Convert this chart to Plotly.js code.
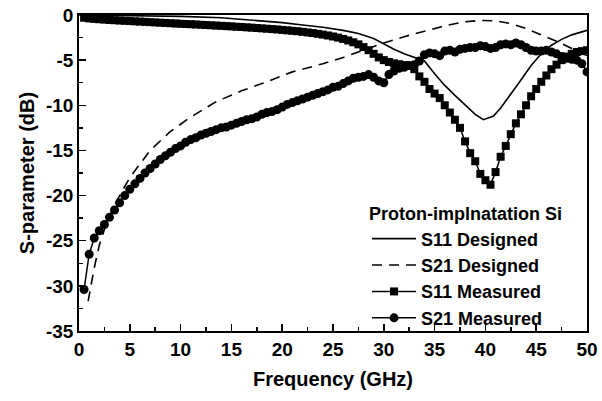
<!DOCTYPE html>
<html>
<head>
<meta charset="utf-8">
<script src="https://cdn.plot.ly/plotly-3.0.1.min.js"></script>
<style>html,body{margin:0;padding:0;background:#fff;}#chart{width:602px;height:401px;}</style>
</head>
<body>
<div id="chart"></div>
<script>
// Designed S11 (solid line)
var s11DesFreq = [0, 5, 10, 14, 17, 20, 22, 24, 26, 27.5, 29, 30, 31, 32, 33, 34, 35, 36, 37, 38, 39, 39.8, 40.8, 41.5, 42.5, 43.5, 44.5, 45.5, 46.5, 47.5, 48.5, 50];
var s11DesVal  = [0, -0.05, -0.15, -0.3, -0.55, -0.85, -1.1, -1.35, -1.7, -2.05, -2.6, -3.2, -3.8, -4.3, -4.7, -5.1, -6.5, -7.8, -8.9, -10.0, -11.0, -11.6, -11.2, -10.3, -8.8, -7.2, -5.6, -4.3, -3.35, -2.7, -2.2, -1.7];

// Designed S21 (dashed line)
var s21DesFreq = [0.9, 1.5, 2, 2.7, 3.5, 5, 7, 9, 11, 13.5, 16, 18, 21, 24, 26, 28, 30, 32, 34, 36, 38, 39.5, 41, 42.5, 44, 45.5, 47, 48.5, 50];
var s21DesVal  = [-31.7, -28, -25.5, -23.1, -21, -18, -15, -12.9, -11.3, -9.6, -8.4, -7.6, -6.3, -5.4, -4.7, -3.9, -3.1, -2.4, -1.8, -1.2, -0.75, -0.6, -0.65, -0.95, -1.5, -2.2, -2.9, -3.7, -4.5];

// Measured frequencies (GHz)
var measFreq = [0.5, 1, 1.5, 2, 2.5, 3, 3.5, 4, 4.5, 5, 5.5, 6, 6.5, 7, 7.5, 8, 8.5, 9, 9.5, 10,
  10.5, 11, 11.5, 12, 12.5, 13, 13.5, 14, 14.5, 15, 15.5, 16, 16.5, 17, 17.5, 18, 18.5, 19, 19.5, 20,
  20.5, 21, 21.5, 22, 22.5, 23, 23.5, 24, 24.5, 25, 25.5, 26, 26.5, 27, 27.5, 28, 28.5, 29, 29.5, 30,
  30.5, 31, 31.5, 32, 32.5, 33, 33.5, 34, 34.5, 35, 35.5, 36, 36.5, 37, 37.5, 38, 38.5, 39, 39.5, 40,
  40.5, 41, 41.5, 42, 42.5, 43, 43.5, 44, 44.5, 45, 45.5, 46, 46.5, 47, 47.5, 48, 48.5, 49, 49.5, 50];

// Measured S11 (squares)
var s11MeasVal = [-0.30, -0.38, -0.43, -0.47, -0.51, -0.55, -0.58, -0.61, -0.64, -0.67, -0.70, -0.73, -0.76, -0.79, -0.82, -0.85, -0.88, -0.91, -0.94, -0.97,
  -1.0, -1.02, -1.05, -1.08, -1.11, -1.14, -1.17, -1.2, -1.23, -1.26, -1.3, -1.33, -1.37, -1.4, -1.44, -1.48, -1.52, -1.56, -1.6, -1.65,
  -1.7, -1.75, -1.8, -1.86, -1.93, -2.0, -2.08, -2.17, -2.27, -2.38, -2.5, -2.65, -2.82, -3.02, -3.25, -3.55, -3.9, -4.3, -4.7, -5.0,
  -5.2, -5.35, -5.45, -5.55, -5.65, -6.0, -6.8, -7.4, -8.2, -8.7, -9.2, -10.0, -10.8, -11.6, -12.5, -14.0, -15.3, -16.2, -17.6, -18.3,
  -18.8, -17.4, -15.7, -14.5, -13.2, -12.0, -11.0, -10.0, -9.0, -8.2, -7.4, -6.7, -6.0, -5.5, -5.0, -4.6, -4.3, -4.1, -4.0, -3.9];

// Measured S21 (circles)
var s21MeasVal = [-30.4, -26.5, -24.7, -23.9, -23.2, -22.4, -21.6, -20.8, -20.0, -19.3, -18.7, -18.1, -17.5, -17.0, -16.5, -16.0, -15.6, -15.2, -14.8, -14.5,
  -14.1, -13.8, -13.6, -13.3, -13.1, -12.9, -12.7, -12.5, -12.4, -12.2, -12.0, -11.8, -11.6, -11.5, -11.3, -11.0, -10.8, -10.7, -10.5, -10.2,
  -9.9, -9.7, -9.5, -9.3, -9.1, -8.9, -8.7, -8.5, -8.3, -8.0, -7.9, -7.6, -7.3, -7.0, -6.9, -6.8, -6.6, -6.9, -7.3, -7.5,
  -6.6, -6.2, -5.9, -5.8, -5.6, -5.5, -5.1, -4.4, -4.2, -4.3, -4.5, -4.0, -3.9, -4.1, -3.8, -3.7, -3.6, -3.6, -3.4, -3.5,
  -3.7, -3.6, -3.3, -3.2, -3.3, -3.1, -3.3, -3.6, -3.9, -4.0, -4.0, -3.9, -4.1, -4.3, -4.6, -4.8, -4.9, -5.0, -5.4, -6.3];

var xTickVals = [0, 5, 10, 15, 20, 25, 30, 35, 40, 45, 50];
var xTickText = ["0", "5", "10", "15", "20", "25", "30", "35", "40", "45", "50"];
var yTickVals = [0, -5, -10, -15, -20, -25, -30, -35];
var yTickText = ["0", "-5", "-10", "-15", "-20", "-25", "-30", "-35"];

var FONT = "Liberation Sans, Arial, Helvetica, sans-serif";

var traces = [
  {x: s11DesFreq, y: s11DesVal, name: "S11 Designed", mode: "lines",
   line: {color: "#000", width: 1.6}},
  {x: s21DesFreq, y: s21DesVal, name: "S21 Designed", mode: "lines",
   line: {color: "#000", width: 1.6, dash: "10px,7px"}},
  {x: measFreq, y: s11MeasVal, name: "S11 Measured", mode: "lines+markers",
   line: {color: "#000", width: 1.5}, marker: {symbol: "square", size: 8, color: "#000"}},
  {x: measFreq, y: s21MeasVal, name: "S21 Measured", mode: "lines+markers",
   line: {color: "#000", width: 1.5}, marker: {symbol: "circle", size: 9, color: "#000"}}
];

var layout = {
  width: 602, height: 401,
  margin: {l: 79, r: 15, t: 15, b: 70},
  paper_bgcolor: "#fff", plot_bgcolor: "#fff",
  font: {family: FONT, color: "#000", size: 18, weight: "bold"},
  showlegend: true,
  legend: {
    x: 0.567, xanchor: "left", y: 0.424, yanchor: "top",
    bgcolor: "rgba(0,0,0,0)", borderwidth: 0,
    font: {family: FONT, size: 18, color: "#000", weight: "bold"},
    title: {text: "Proton-implnatation Si", font: {family: FONT, size: 18, color: "#000", weight: "bold"}},
    tracegroupgap: 0, itemwidth: 44
  },
  xaxis: {
    range: [0, 50], tickmode: "array", tickvals: xTickVals, ticktext: xTickText,
    ticks: "inside", ticklen: 7, tickwidth: 1.5, tickcolor: "#000",
    minor: {dtick: 2.5, ticks: "inside", ticklen: 4, tickwidth: 1.5, tickcolor: "#000"},
    showline: true, linewidth: 1.8, linecolor: "#000", mirror: true,
    showgrid: false, zeroline: false,
    tickfont: {family: FONT, size: 19, color: "#000", weight: "bold"},
    title: {text: "Frequency (GHz)", font: {family: FONT, size: 20, color: "#000", weight: "bold"}, standoff: 13}
  },
  yaxis: {
    range: [-35, 0], tickmode: "array", tickvals: yTickVals, ticktext: yTickText,
    ticks: "inside", ticklen: 7, tickwidth: 1.5, tickcolor: "#000",
    minor: {dtick: 2.5, ticks: "inside", ticklen: 4, tickwidth: 1.5, tickcolor: "#000"},
    showline: true, linewidth: 1.8, linecolor: "#000", mirror: true,
    showgrid: false, zeroline: false,
    tickfont: {family: FONT, size: 19, color: "#000", weight: "bold"},
    title: {text: "S-parameter (dB)", font: {family: FONT, size: 20, color: "#000", weight: "bold"}, standoff: 6}
  }
};

Plotly.newPlot("chart", traces, layout, {displayModeBar: false, staticPlot: true});
</script>
</body>
</html>
